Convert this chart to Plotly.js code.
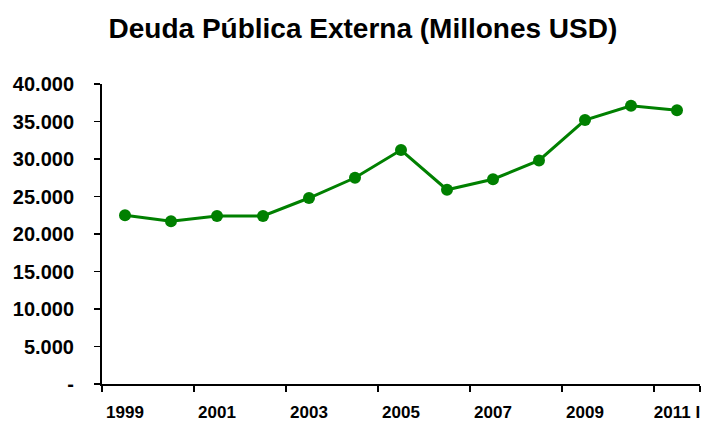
<!DOCTYPE html>
<html>
<head>
<meta charset="utf-8">
<script src="https://cdn.plot.ly/plotly-3.0.1.min.js"></script>
<style>html,body{margin:0;padding:0;background:#fff;}#chart{width:702px;height:421px;}</style>
</head>
<body>
<div id="chart"></div>
<script>
const categories = ['1999','2000','2001','2002','2003','2004','2005','2006','2007','2008','2009','2010','2011 I'];
const deuda = [22500, 21700, 22400, 22400, 24800, 27500, 31200, 25900, 27300, 29800, 35200, 37100, 36500];
const xTickVals = ['1999','2001','2003','2005','2007','2009','2011 I'];
const yTickVals = [0, 5000, 10000, 15000, 20000, 25000, 30000, 35000, 40000];
const yTickText = ['-', '5.000', '10.000', '15.000', '20.000', '25.000', '30.000', '35.000', '40.000'];
const titleText = 'Deuda Pública Externa (Millones USD)';

const font = 'Arial, "Liberation Sans", sans-serif';

const trace = {
  x: categories,
  y: deuda,
  type: 'scatter',
  mode: 'lines+markers',
  line: {color: '#008000', width: 3},
  marker: {color: '#008000', size: 12},
  hoverinfo: 'x+y'
};

const layout = {
  width: 702,
  height: 421,
  margin: {l: 102, r: 2, t: 84, b: 37},
  paper_bgcolor: '#ffffff',
  plot_bgcolor: '#ffffff',
  showlegend: false,
  title: {
    text: '<b>' + titleText + '</b>',
    font: {family: font, size: 28, color: '#000000'},
    x: 0.517, xanchor: 'center', xref: 'container',
    y: 0.91, yanchor: 'bottom', yref: 'container'
  },
  xaxis: {
    type: 'category',
    categoryarray: categories, categoryorder: 'array',
    range: [-0.5, 12.5],
    tickmode: 'array',
    tickvals: xTickVals,
    ticktext: xTickVals.map(t => '<b>' + t + '</b>'),
    tickangle: 0,
    tickson: 'boundaries',
    ticks: 'outside', ticklen: 6, tickwidth: 1.5, tickcolor: '#000',
    showline: true, linecolor: '#000', linewidth: 2,
    showgrid: false, zeroline: false,
    ticklabelstandoff: 12,
    tickfont: {family: font, size: 17, color: '#000'},
    fixedrange: true
  },
  yaxis: {
    range: [0, 40000],
    tickmode: 'array',
    tickvals: yTickVals,
    ticktext: yTickText.map(t => '<b>' + t + '</b>'),
    ticks: 'outside', ticklen: 6, tickwidth: 1.5, tickcolor: '#000',
    showline: true, linecolor: '#000', linewidth: 2,
    showgrid: false, zeroline: false,
    ticklabelstandoff: 16,
    tickfont: {family: font, size: 20, color: '#000'},
    fixedrange: true
  }
};

Plotly.newPlot('chart', [trace], layout, {displayModeBar: false, staticPlot: true});
</script>
</body>
</html>
